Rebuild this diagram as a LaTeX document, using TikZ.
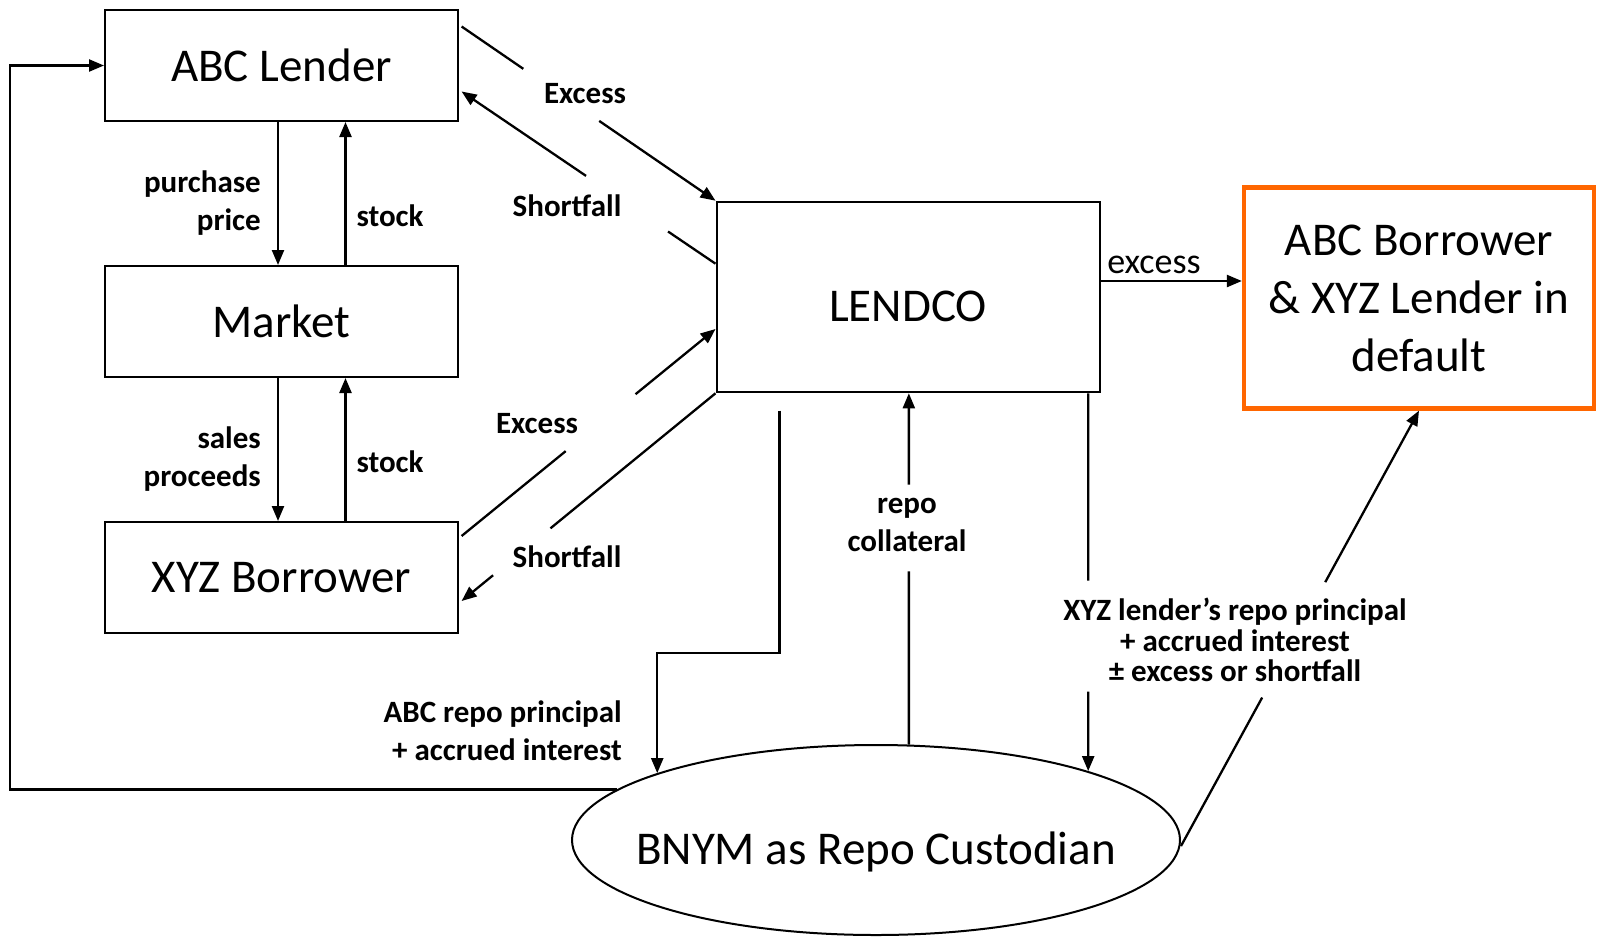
\documentclass[tikz,border=0pt]{standalone}
\usepackage{fontspec}
\setmainfont{Carlito}
\usetikzlibrary{arrows.meta,calc,shapes.geometric}
\definecolor{orange1}{HTML}{FF6600}
\begin{document}
\begin{tikzpicture}[x=1pt,y=-1pt,
  box/.style={draw,line width=2pt,minimum width=353pt,minimum height=111pt,inner sep=0pt,font=\fontsize{47}{58}\selectfont},
  lbl/.style={font=\fontsize{31}{37.7}\selectfont\bfseries,inner sep=0pt,align=center},
  conn/.style={line width=2.3pt},
  arr/.style={conn,-{Triangle[length=15pt,width=12pt]}},
]
\useasboundingbox (0,0) rectangle (1598,938);
% nodes
\node[box] (abc) at (281.5,65.5) {ABC Lender};
\node[box] (market) at (281.5,321.5) {Market};
\node[box] (xyz) at (281.5,577.5) {XYZ Borrower};
\node[box,minimum width=383pt,minimum height=190.6pt,text height=48pt,text depth=0pt] (lendco) at (908,297) {LENDCO};
\node[draw=orange1,line width=4.3pt,minimum width=350pt,minimum height=221pt,inner sep=0pt,align=center,font=\fontsize{47}{58}\selectfont] (dflt) at (1419,298) {ABC Borrower\\ \& XYZ Lender in\\ default};
\node[draw,ellipse,line width=2pt,minimum width=608pt,minimum height=190pt,inner sep=0pt] (bnym) at (876,840) {};
\node[font=\fontsize{47}{58}\selectfont,inner sep=0pt] (bnymt) at (876,852) {BNYM as Repo Custodian};
% left column
\draw[arr] ($(abc.south)+(-3.5,0)$) -- ($(market.north)+(-3.5,0)$);
\draw[arr] ($(market.north)+(64,0)$) -- ($(abc.south)+(64,0)$);
\draw[arr] ($(market.south)+(-3.5,0)$) -- ($(xyz.north)+(-3.5,0)$);
\draw[arr] ($(xyz.north)+(64,0)$) -- ($(market.south)+(64,0)$);
% diagonals
\coordinate (e1s) at ($(abc.north east)+(2.6,17.5)$);
\coordinate (e1e) at (lendco.north west);
\draw[conn] (e1s) -- ($(e1s)!0.243!(e1e)$);
\draw[arr] ($(e1s)!0.542!(e1e)$) -- (e1e);
\coordinate (s1s) at ($(lendco.north west)+(0,63)$);
\coordinate (s1e) at ($(abc.east)+(2.6,26)$);
\draw[conn] (s1s) -- ($(s1s)!0.187!(s1e)$);
\draw[arr] ($(s1s)!0.51!(s1e)$) -- (s1e);
\coordinate (e2s) at ($(xyz.north east)+(2.6,15)$);
\coordinate (e2e) at ($(lendco.west)+(0,32)$);
\draw[conn] (e2s) -- ($(e2s)!0.41!(e2e)$);
\draw[arr] ($(e2s)!0.685!(e2e)$) -- (e2e);
\coordinate (s2s) at (lendco.south west);
\coordinate (s2e) at ($(xyz.east)+(2.6,23.5)$);
\draw[conn] (s2s) -- ($(s2s)!0.65!(s2e)$);
\draw[arr] ($(s2s)!0.876!(s2e)$) -- (s2e);
% excess to default
\coordinate (x1) at ($(lendco.east)+(0,-16)$);
\draw[arr] (x1) -- (x1 -| dflt.west);
% ABC repo principal
\coordinate (r1s) at ($(lendco.south)+(-128.4,17.3)$);
\draw[arr] (r1s) -- ++(0,242.3) -| (bnym.163.2);
% repo collateral
\coordinate (c1s) at (bnym.71.8);
\coordinate (c1e) at (c1s |- lendco.south);
\draw[conn] (c1s) -- ($(c1s)!0.493!(c1e)$);
\draw[arr] ($(c1s)!0.74!(c1e)$) -- (c1e);
% XYZ lender's repo principal
\coordinate (x2e) at (bnym.18.2);
\coordinate (x2s) at (x2e |- lendco.south);
\draw[conn] (x2s) -- ($(x2s)!0.496!(x2e)$);
\draw[arr] ($(x2s)!0.79!(x2e)$) -- (x2e);
% bnym to default
\coordinate (d1s) at ($(bnym.east)+(0,6)$);
\coordinate (d1e) at (dflt.south);
\draw[conn] (d1s) -- ($(d1s)!0.341!(d1e)$);
\draw[arr] ($(d1s)!0.606!(d1e)$) -- (d1e);
% feedback to ABC Lender
\draw[arr] (bnym.169.2) -| ($(abc.west)+(-94,0)$) -- (abc.west);
% labels
\node[lbl,anchor=east,align=right] (lpp) at (261,203) {purchase\\price};
\node[lbl] (ls1) at (390,216) {stock};
\node[lbl,anchor=east,align=right] (lsp) at (261,459) {sales\\proceeds};
\node[lbl] (ls2) at (390,462) {stock};
\node[lbl] (le1) at (585,94) {Excess};
\node[lbl] (lsf1) at (567,206) {Shortfall};
\node[lbl] (le2) at (537,424) {Excess};
\node[lbl] (lsf2) at (567,557) {Shortfall};
\node[font=\fontsize{36}{43}\selectfont,inner sep=0pt] (lex) at (1154,265) {excess};
\node[lbl] (lrc) at (907,525) {repo\\collateral};
\node[lbl,anchor=east,align=right] (lar) at (622,731) {ABC repo principal\\+ accrued interest};
\node[lbl,font=\fontsize{31}{30.6}\selectfont\bfseries] (lxyz) at (1235,640) {XYZ lender’s repo principal\\+ accrued interest\\± excess or shortfall};
\end{tikzpicture}
\end{document}
